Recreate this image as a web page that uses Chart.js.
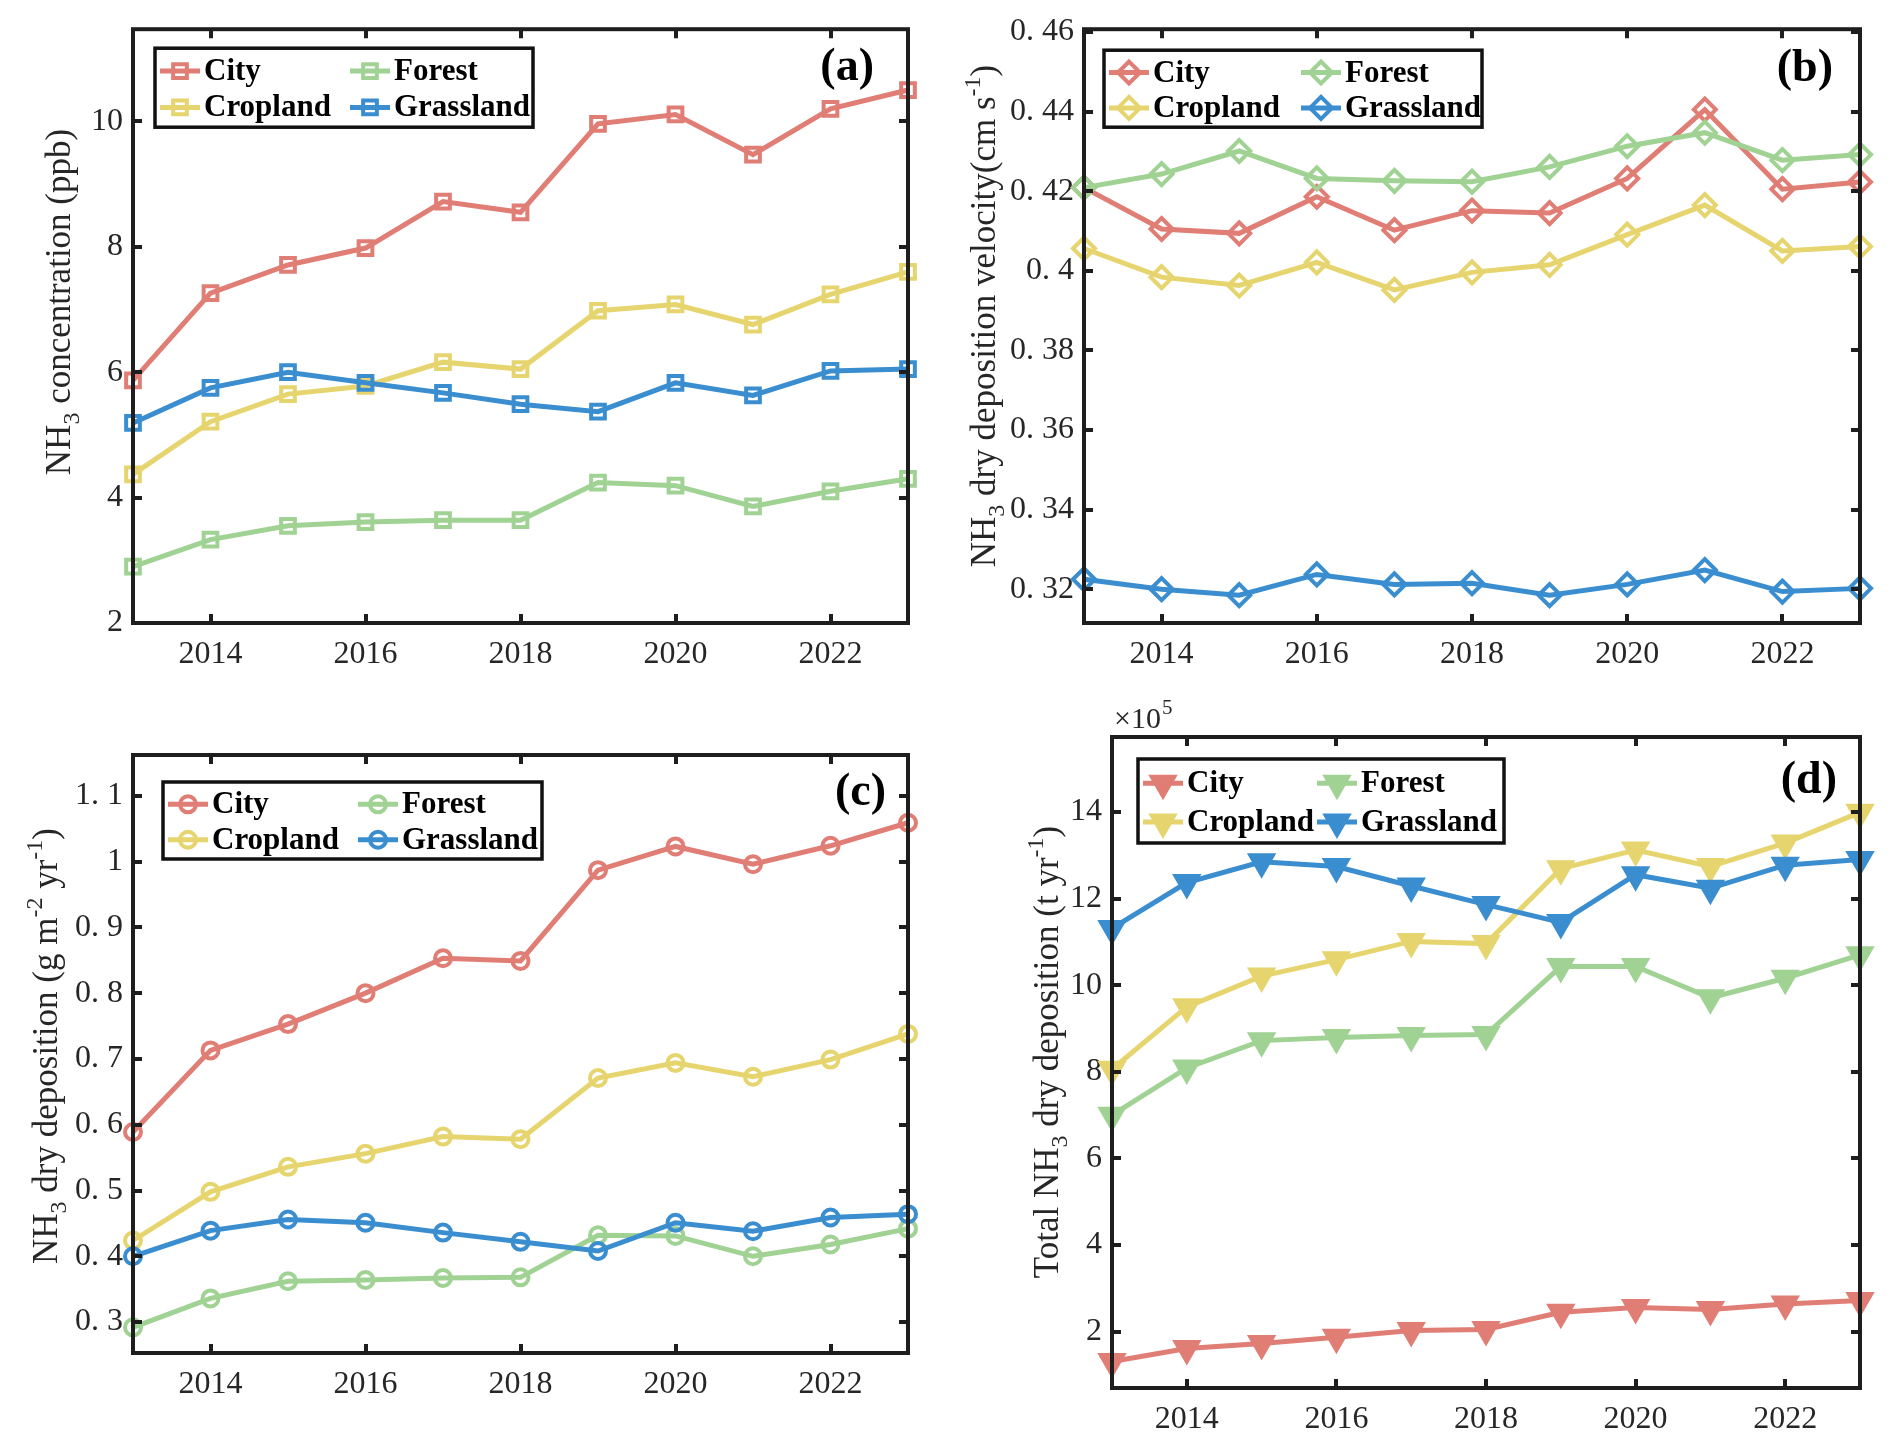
<!DOCTYPE html>
<html>
<head>
<meta charset="utf-8">
<script src="https://cdn.jsdelivr.net/npm/chart.js@4.4.1/dist/chart.umd.min.js"></script>
<style>
  html, body { margin: 0; padding: 0; background: #fff; }
  #wrap { position: relative; width: 1892px; height: 1445px; }
  #wrap canvas { position: absolute; left: 0; top: 0; }
</style>
</head>
<body>
<div id="wrap">
  <canvas id="cA" width="1892" height="1445"></canvas>
  <canvas id="cB" width="1892" height="1445"></canvas>
  <canvas id="cC" width="1892" height="1445"></canvas>
  <canvas id="cD" width="1892" height="1445"></canvas>
</div>
<script>
// dữ liệu
const years = [2013, 2014, 2015, 2016, 2017, 2018, 2019, 2020, 2021, 2022, 2023];
const xTicks = [2014, 2016, 2018, 2020, 2022];
const landNames = ['City', 'Cropland', 'Forest', 'Grassland'];

// (a) NH3 concentration (ppb)
const concCity      = [5.87, 7.26, 7.71, 7.98, 8.72, 8.55, 9.96, 10.11, 9.47, 10.20, 10.50];
const concCropland  = [4.37, 5.21, 5.65, 5.78, 6.16, 6.05, 6.98, 7.08, 6.76, 7.24, 7.60];
const concForest    = [2.90, 3.33, 3.55, 3.61, 3.64, 3.64, 4.24, 4.19, 3.86, 4.10, 4.30];
const concGrassland = [5.19, 5.75, 6.00, 5.83, 5.67, 5.49, 5.37, 5.83, 5.63, 6.02, 6.05];
const concTicks = [2, 4, 6, 8, 10];

// (b) dry deposition velocity (cm s-1)
const velCity      = [0.4209, 0.4105, 0.4094, 0.4186, 0.4102, 0.4151, 0.4145, 0.4232, 0.4405, 0.4205, 0.4223];
const velCropland  = [0.4056, 0.3984, 0.3963, 0.4021, 0.3952, 0.3996, 0.4015, 0.4091, 0.4165, 0.4050, 0.4061];
const velForest    = [0.4209, 0.4243, 0.4301, 0.4232, 0.4226, 0.4224, 0.4261, 0.4313, 0.4347, 0.4278, 0.4292];
const velGrassland = [0.3225, 0.3200, 0.3185, 0.3237, 0.3212, 0.3215, 0.3185, 0.3212, 0.3248, 0.3194, 0.3202];
const velTicks = [0.32, 0.34, 0.36, 0.38, 0.40, 0.42, 0.44, 0.46];

// (c) dry deposition (g m-2 yr-1)
const depCity      = [0.589, 0.713, 0.753, 0.800, 0.853, 0.849, 0.987, 1.023, 0.996, 1.024, 1.059];
const depCropland  = [0.424, 0.498, 0.536, 0.556, 0.582, 0.578, 0.671, 0.694, 0.673, 0.699, 0.738];
const depForest    = [0.292, 0.336, 0.362, 0.364, 0.367, 0.368, 0.432, 0.431, 0.400, 0.418, 0.442];
const depGrassland = [0.400, 0.439, 0.456, 0.451, 0.436, 0.422, 0.408, 0.451, 0.438, 0.459, 0.464];
const depTicks = [0.3, 0.4, 0.5, 0.6, 0.7, 0.8, 0.9, 1.0, 1.1];

// (d) total dry deposition (x10^5 t yr-1)
const totCity      = [1.31, 1.61, 1.73, 1.87, 2.03, 2.05, 2.45, 2.56, 2.51, 2.64, 2.72];
const totCropland  = [8.06, 9.50, 10.21, 10.59, 11.01, 10.96, 12.69, 13.12, 12.74, 13.28, 13.99];
const totForest    = [7.00, 8.09, 8.72, 8.79, 8.84, 8.86, 10.43, 10.43, 9.71, 10.16, 10.70];
const totGrassland = [11.31, 12.37, 12.85, 12.74, 12.29, 11.86, 11.45, 12.55, 12.24, 12.77, 12.90];
const totTicks = [2, 4, 6, 8, 10, 12, 14];

// kiểu dáng
const colors = ['#E07D74', '#E6D56F', '#A0D294', '#3A8ED0'];
const SERIF = '"Liberation Serif", "Times New Roman", serif';
const INK = '#262626';
const W = 1892, H = 1445;
const Y_AXIS_W = 120, X_AXIS_H = 60;
const LINE_W = 5, MARK_W = 4;

// khung từng ô (toạ độ trang)
const panels = {
  cA: { area: [133, 25, 908, 623], ymin: 2, ymax: 11.47, ticks: concTicks,
        vals: [concCity, concCropland, concForest, concGrassland],
        marker: { style: 'rect', r: 9.7, rot: 0, fill: false },
        tag: '(a)', tagPos: [874, 68],
        title: [{ t: 'NH' }, { t: '3', s: 'sub' }, { t: ' concentration (ppb)' }], titlePos: [58, 302],
        legend: { dx: 22, dy: 19, w: 378, h: 79, col: 190 } },
  cB: { area: [1084, 25, 1860, 623], ymin: 0.3115, ymax: 0.4607, ticks: velTicks,
        vals: [velCity, velCropland, velForest, velGrassland],
        marker: { style: 'rectRot', r: 11, rot: 0, fill: false },
        tag: '(b)', tagPos: [1833, 69],
        title: [{ t: 'NH' }, { t: '3', s: 'sub' }, { t: ' dry deposition velocity(cm s' }, { t: '-1', s: 'sup' }, { t: ')' }],
        titlePos: [983, 316],
        legend: { dx: 20, dy: 21, w: 378, h: 77, col: 192 } },
  cC: { area: [133, 755, 908, 1353], ymin: 0.253, ymax: 1.162, ticks: depTicks,
        vals: [depCity, depCropland, depForest, depGrassland],
        marker: { style: 'circle', r: 8, rot: 0, fill: false },
        tag: '(c)', tagPos: [886, 793],
        title: [{ t: 'NH' }, { t: '3', s: 'sub' }, { t: ' dry deposition (g m' }, { t: '-2', s: 'sup' }, { t: ' yr' }, { t: '-1', s: 'sup' }, { t: ')' }],
        titlePos: [45, 1046],
        legend: { dx: 30, dy: 27, w: 379, h: 77, col: 190 } },
  cD: { area: [1112, 737, 1860, 1388], ymin: 0.7, ymax: 15.73, ticks: totTicks,
        vals: [totCity, totCropland, totForest, totGrassland],
        marker: { style: 'triangle', r: 13, rot: 180, fill: true },
        tag: '(d)', tagPos: [1837, 781], exponent: true,
        title: [{ t: 'Total NH' }, { t: '3', s: 'sub' }, { t: ' dry deposition (t yr' }, { t: '-1', s: 'sup' }, { t: ')' }],
        titlePos: [1046, 1052],
        legend: { dx: 26, dy: 22, w: 366, h: 84, col: 174 } }
};

function fmtTick(v) {
  const s = String(+v.toFixed(2));
  return s.replace('.', '. ');
}

function drawMarker(ctx, m, color, x, y) {
  ctx.save();
  ctx.strokeStyle = color;
  ctx.fillStyle = m.fill ? color : 'rgba(0,0,0,0)';
  ctx.lineWidth = MARK_W;
  if (Chart.helpers && Chart.helpers.drawPoint) {
    Chart.helpers.drawPoint(ctx, { pointStyle: m.style, radius: m.r, rotation: m.rot, borderWidth: MARK_W }, x, y);
  } else {
    ctx.beginPath(); ctx.arc(x, y, m.r, 0, Math.PI * 2); ctx.fill(); ctx.stroke();
  }
  ctx.restore();
}

function drawRich(ctx, parts, cx, cy, size) {
  const fontOf = p => (p.s ? Math.round(size * 0.68) : size) + 'px ' + SERIF;
  const widths = parts.map(p => { ctx.font = fontOf(p); return ctx.measureText(p.t).width; });
  const total = widths.reduce((a, b) => a + b, 0);
  ctx.save();
  ctx.translate(cx, cy);
  ctx.rotate(-Math.PI / 2);
  ctx.fillStyle = INK;
  ctx.textBaseline = 'alphabetic';
  ctx.textAlign = 'left';
  let x = -total / 2;
  parts.forEach((p, i) => {
    ctx.font = fontOf(p);
    const dy = p.s === 'sub' ? size * 0.28 : p.s === 'sup' ? -size * 0.42 : 0;
    ctx.fillText(p.t, x, size * 0.33 + dy);
    x += widths[i];
  });
  ctx.restore();
}

// khung, vạch chia, chú thích kiểu MATLAB
const matlabLook = {
  id: 'matlabLook',
  afterDatasetsDraw(chart) {
    const cfg = panels[chart.canvas.id];
    const ctx = chart.ctx, a = chart.chartArea;
    const xs = chart.scales.x, ys = chart.scales.y;
    ctx.save();
    ctx.strokeStyle = '#1e1e1e';
    ctx.lineWidth = 4;
    ctx.beginPath();
    xs.ticks.forEach(t => {
      const px = Math.round(xs.getPixelForValue(t.value));
      ctx.moveTo(px, a.bottom); ctx.lineTo(px, a.bottom - 9);
      ctx.moveTo(px, a.top); ctx.lineTo(px, a.top + 9);
    });
    ys.ticks.forEach(t => {
      const py = Math.round(ys.getPixelForValue(t.value));
      ctx.moveTo(a.left, py); ctx.lineTo(a.left + 9, py);
      ctx.moveTo(a.right, py); ctx.lineTo(a.right - 9, py);
    });
    ctx.stroke();
    ctx.strokeRect(a.left, a.top, a.right - a.left, a.bottom - a.top);
    ctx.restore();

    // chú thích
    const L = cfg.legend;
    const x0 = a.left + L.dx, y0 = a.top + L.dy;
    ctx.save();
    ctx.fillStyle = '#fff';
    ctx.fillRect(x0, y0, L.w, L.h);
    ctx.lineWidth = 3.5;
    ctx.strokeStyle = '#111';
    ctx.strokeRect(x0, y0, L.w, L.h);
    chart.data.datasets.forEach((ds, i) => {
      const col = Math.floor(i / 2), row = i % 2;
      const lx = x0 + 5 + col * L.col;
      const ly = y0 + L.h * (row === 0 ? 0.29 : 0.75);
      ctx.strokeStyle = ds.borderColor;
      ctx.lineWidth = LINE_W;
      ctx.beginPath(); ctx.moveTo(lx, ly); ctx.lineTo(lx + 40, ly); ctx.stroke();
      drawMarker(ctx, cfg.marker, ds.borderColor, lx + 20, ly);
      ctx.fillStyle = '#000';
      ctx.font = 'bold 31px ' + SERIF;
      ctx.textAlign = 'left';
      ctx.textBaseline = 'middle';
      ctx.fillText(ds.label, lx + 44, ly + 1);
    });
    // nhãn ô
    ctx.font = 'bold 46px ' + SERIF;
    ctx.textAlign = 'right';
    ctx.textBaseline = 'middle';
    ctx.fillStyle = '#000';
    ctx.fillText(cfg.tag, cfg.tagPos[0], cfg.tagPos[1]);
    // tiêu đề trục y
    drawRich(ctx, cfg.title, cfg.titlePos[0], cfg.titlePos[1], 35);
    if (cfg.exponent) {
      ctx.fillStyle = INK;
      ctx.textAlign = 'left';
      ctx.textBaseline = 'alphabetic';
      ctx.font = '30px ' + SERIF;
      ctx.fillText('\u00d710', a.left + 2, a.top - 9);
      const wx = ctx.measureText('\u00d710').width;
      ctx.font = '21px ' + SERIF;
      ctx.fillText('5', a.left + 3 + wx, a.top - 23);
    }
    ctx.restore();
  }
};

function makeChart(id) {
  const cfg = panels[id];
  const [l, t, r, b] = cfg.area;
  const m = cfg.marker;
  const datasets = landNames.map((name, i) => ({
    label: name,
    data: years.map((y, j) => ({ x: y, y: cfg.vals[i][j] })),
    borderColor: colors[i],
    backgroundColor: colors[i],
    borderWidth: LINE_W,
    pointStyle: m.style,
    pointRadius: m.r,
    pointRotation: m.rot,
    pointBorderWidth: MARK_W,
    pointBorderColor: colors[i],
    pointBackgroundColor: m.fill ? colors[i] : 'rgba(0,0,0,0)',
    tension: 0,
    clip: false,
    order: 3 - i
  }));
  return new Chart(document.getElementById(id), {
    type: 'line',
    data: { datasets },
    plugins: [matlabLook],
    options: {
      responsive: false,
      animation: false,
      devicePixelRatio: 1,
      events: [],
      layout: { padding: { left: l - Y_AXIS_W, top: t, right: W - r, bottom: H - b - X_AXIS_H } },
      plugins: { legend: { display: false }, title: { display: false }, tooltip: { enabled: false } },
      scales: {
        x: {
          type: 'linear', min: 2013, max: 2023,
          afterBuildTicks: s => { s.ticks = xTicks.map(v => ({ value: v })); },
          afterFit: s => { s.height = X_AXIS_H; },
          grid: { display: false, drawTicks: false },
          border: { display: false },
          ticks: { padding: 12, maxRotation: 0, autoSkip: false, color: INK,
                   font: { family: SERIF, size: 32 }, callback: v => String(v) }
        },
        y: {
          type: 'linear', min: cfg.ymin, max: cfg.ymax,
          afterBuildTicks: s => { s.ticks = cfg.ticks.map(v => ({ value: v })); },
          afterFit: s => { s.width = Y_AXIS_W; },
          grid: { display: false, drawTicks: false },
          border: { display: false },
          ticks: { padding: 10, autoSkip: false, color: INK,
                   font: { family: SERIF, size: 32 }, callback: v => fmtTick(v) }
        }
      }
    }
  });
}

['cA', 'cB', 'cC', 'cD'].forEach(makeChart);
</script>
</body>
</html>
